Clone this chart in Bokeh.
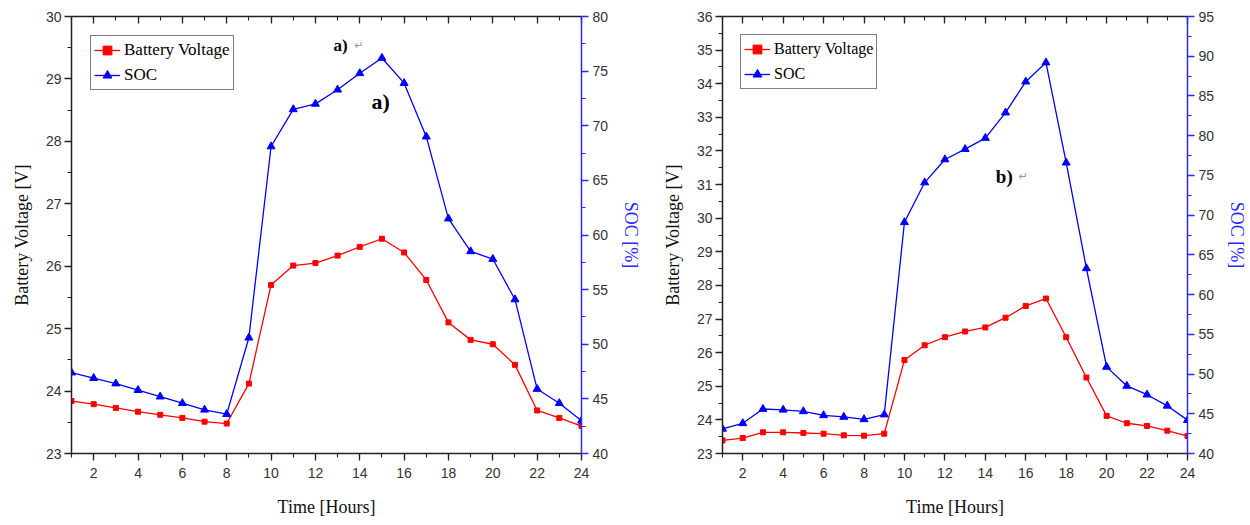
from bokeh.plotting import figure
from bokeh.models import Range1d, LinearAxis, SingleIntervalTicker, Label, Legend, CustomLabelingPolicy
from bokeh.layouts import row
from bokeh.embed import file_html
from bokeh.resources import INLINE

hours = list(range(1, 25))

# Panel a)
volt_a = [23.84, 23.79, 23.73, 23.67, 23.62, 23.57, 23.51, 23.48, 24.12, 25.70, 26.01, 26.05,
          26.17, 26.31, 26.44, 26.22, 25.78, 25.10, 24.82, 24.75, 24.42, 23.69, 23.57, 23.44]
soc_a = [47.4, 46.9, 46.4, 45.8, 45.2, 44.6, 44.0, 43.6, 50.6, 68.1, 71.5, 72.0,
         73.3, 74.8, 76.2, 73.9, 69.0, 61.5, 58.5, 57.8, 54.1, 45.9, 44.6, 43.0]

# Panel b)
volt_b = [23.39, 23.46, 23.63, 23.63, 23.61, 23.59, 23.54, 23.53, 23.59, 25.78, 26.22, 26.46,
          26.63, 26.75, 27.04, 27.39, 27.61, 26.46, 25.26, 24.12, 23.90, 23.82, 23.68, 23.52]
soc_b = [43.1, 43.8, 45.6, 45.5, 45.3, 44.8, 44.6, 44.3, 44.9, 69.1, 74.1, 77.0,
         78.3, 79.7, 82.9, 86.8, 89.2, 76.6, 63.3, 50.9, 48.5, 47.4, 46.0, 44.2]

RED = "#ff0000"
BLUE = "#0000ff"
AXBLUE = "#2a2aff"
TICKFONT = "Liberation Sans"
SERIF = "Liberation Serif"


def style_axis(ax, color="#222222", label_color="#111111", standoff=3, label_standoff=10):
    ax.axis_line_color = color
    ax.axis_line_width = 1.5
    ax.major_tick_line_color = color
    ax.minor_tick_line_color = color
    ax.major_tick_line_width = 1.3
    ax.minor_tick_line_width = 1.1
    ax.major_tick_in = 0
    ax.major_tick_out = 7
    ax.minor_tick_in = 0
    ax.minor_tick_out = 4
    ax.major_label_text_font = TICKFONT
    ax.major_label_text_font_size = "14px"
    ax.major_label_text_color = "#333333"
    ax.major_label_standoff = standoff
    ax.axis_label_text_font = SERIF
    ax.axis_label_text_font_size = "18px"
    ax.axis_label_text_font_style = "normal"
    ax.axis_label_text_color = label_color
    ax.axis_label_standoff = label_standoff


def make_panel(volt, soc, vrange, srange, width, borders, legend_offset, legend_font, notes):
    left, right, top, bottom = borders
    p = figure(width=width, height=525, output_backend="svg", toolbar_location=None,
               x_range=Range1d(1, 24), y_range=Range1d(*vrange),
               min_border_left=left, min_border_right=right,
               min_border_top=top, min_border_bottom=bottom)
    p.outline_line_color = None
    p.xgrid.grid_line_color = None
    p.ygrid.grid_line_color = None
    p.background_fill_color = "white"
    p.border_fill_color = "white"

    p.extra_y_ranges = {"soc": Range1d(*srange)}

    xt = SingleIntervalTicker(interval=2, num_minor_ticks=2)
    yt = SingleIntervalTicker(interval=1, num_minor_ticks=2)
    st = SingleIntervalTicker(interval=5, num_minor_ticks=2)

    p.xaxis.ticker = xt
    p.yaxis.ticker = yt
    p.xaxis.axis_label = "Time [Hours]"
    p.yaxis.axis_label = "Battery Voltage [V]"
    style_axis(p.xaxis[0], standoff=7, label_standoff=16)
    style_axis(p.yaxis[0], standoff=3, label_standoff=11)

    ra = LinearAxis(y_range_name="soc", ticker=st, axis_label="SOC [%]")
    style_axis(ra, color=AXBLUE, label_color=AXBLUE, standoff=4, label_standoff=10)
    p.add_layout(ra, "right")

    ta = LinearAxis(ticker=SingleIntervalTicker(interval=2, num_minor_ticks=2))
    style_axis(ta)
    ta.major_tick_in = 7
    ta.major_tick_out = 0
    ta.minor_tick_in = 4
    ta.minor_tick_out = 0
    ta.major_label_standoff = 0
    ta.major_label_policy = CustomLabelingPolicy(
        code="for (const i of indices) { indices.unset(i) }\nreturn indices")
    p.add_layout(ta, "above")

    l1 = p.line(hours, volt, line_color=RED, line_width=1.3)
    m1 = p.scatter(hours, volt, marker="square", size=5, fill_color=RED, line_color=RED)
    l2 = p.line(hours, soc, line_color=BLUE, line_width=1.3, y_range_name="soc")
    m2 = p.scatter(hours, soc, marker="triangle", size=8, fill_color=BLUE, line_color=BLUE,
                   y_range_name="soc")

    legend = Legend(items=[("Battery Voltage", [l1, m1]), ("SOC", [l2, m2])],
                    location="top_left", margin=legend_offset)
    legend.border_line_color = "black"
    legend.border_line_width = 1.3
    legend.label_text_font = SERIF
    legend.label_text_font_size = legend_font
    legend.label_text_color = "black"
    legend.padding = 3
    legend.spacing = 3
    legend.label_height = 22
    legend.glyph_height = 22
    legend.glyph_width = 26
    legend.label_standoff = 4
    legend.background_fill_alpha = 1
    p.add_layout(legend)

    for (tx, ty, txt, size, arrow) in notes:
        lab = Label(x=tx, y=ty, text=txt, text_font=SERIF, text_font_size=size,
                    text_font_style="bold", text_color="black", text_baseline="middle")
        p.add_layout(lab)
        if arrow:
            ar = Label(x=tx, y=ty, x_offset=arrow, text="\u21b5", text_font="DejaVu Sans",
                       text_font_size="11px", text_color="#999999", text_baseline="middle")
            p.add_layout(ar)
    return p


p1 = make_panel(volt_a, soc_a, (23, 30), (40, 80), 645, (71, 64, 16, 68), 19, "17px",
                [(12.82, 29.54, "a)", "17px", 21), (14.53, 28.64, "a)", "22px", 0)])
p2 = make_panel(volt_b, soc_b, (23, 36), (40, 95), 605, (77, 60, 9, 72), 18, "16px",
                [(14.52, 31.24, "b)", "19px", 23)])

layout = row(p1, p2)
open("out.html", "w").write(file_html(layout, INLINE))
